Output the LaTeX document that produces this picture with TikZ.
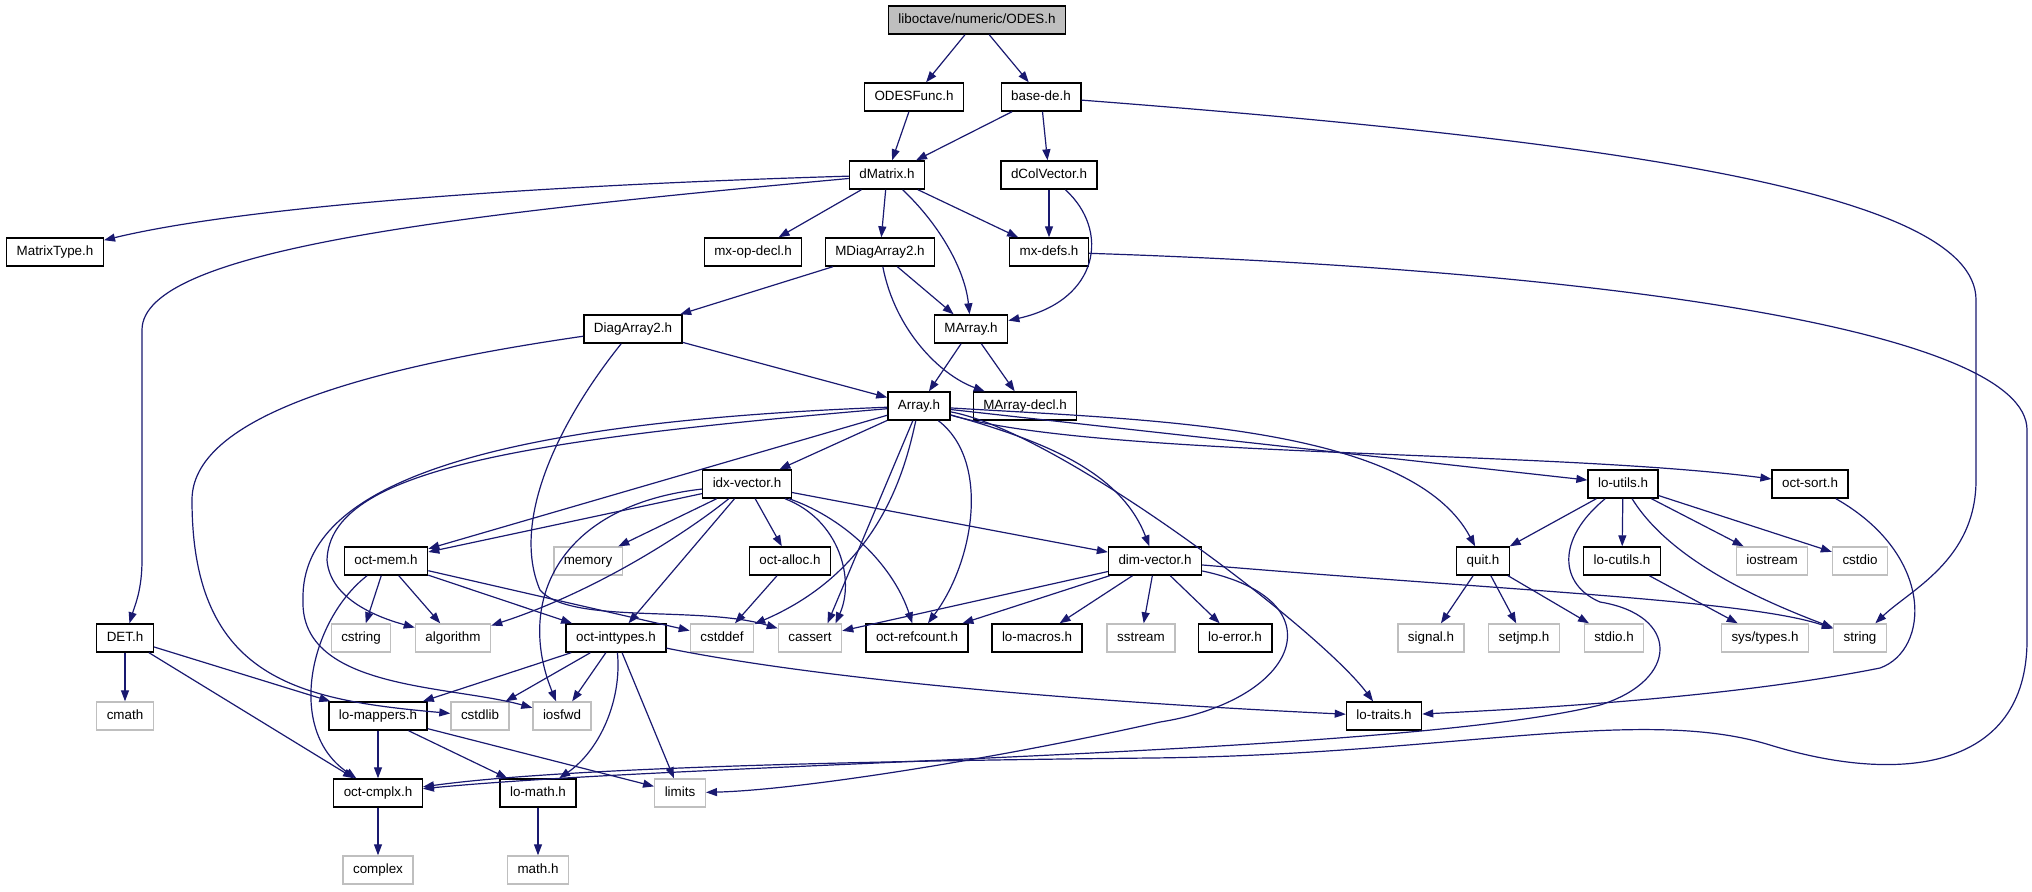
\documentclass[tikz,border=0pt]{standalone}
\usepackage{fontspec}
\setmainfont{Liberation Sans}
\usetikzlibrary{arrows.meta}
\definecolor{edgeblue}{HTML}{191970}
\definecolor{sysgray}{HTML}{BFBFBF}
\begin{document}
\begin{tikzpicture}[x=0.5pt,y=-0.5pt,
every node/.style={font=\fontsize{6.7}{8}\selectfont,inner xsep=5pt,inner ysep=0pt,minimum height=14pt,text height=5pt,text depth=1.5pt},
hdr/.style={draw=black,line width=0.7pt,fill=white},
sys/.style={draw=sysgray,line width=0.7pt,fill=white},
mainhdr/.style={draw=black,line width=0.7pt,fill=sysgray},
dep/.style={draw=edgeblue,line width=0.6pt,-{Triangle[length=5.5pt,width=4pt]}}]
\useasboundingbox (0,0) rectangle (2032,891);

\node[mainhdr] (odes) at (977,20) {liboctave/numeric/ODES.h};
\node[hdr] (odesfunc) at (914,97) {ODESFunc.h};
\node[hdr] (basede) at (1041,97) {base-de.h};
\node[hdr] (dmatrix) at (887,175) {dMatrix.h};
\node[hdr] (dcolvector) at (1049,175) {dColVector.h};
\node[hdr] (matrixtype) at (55,252) {MatrixType.h};
\node[hdr] (mxopdecl) at (753,252) {mx-op-decl.h};
\node[hdr] (mdiagarray) at (880,252) {MDiagArray2.h};
\node[hdr] (mxdefs) at (1049,252) {mx-defs.h};
\node[hdr] (diagarray) at (633,329) {DiagArray2.h};
\node[hdr] (marray) at (971,329) {MArray.h};
\node[hdr] (array) at (919,406) {Array.h};
\node[hdr] (marraydecl) at (1025,406) {MArray-decl.h};
\node[hdr] (idxvector) at (747,484) {idx-vector.h};
\node[hdr] (loutils) at (1623,484) {lo-utils.h};
\node[hdr] (octsort) at (1810,484) {oct-sort.h};
\node[hdr] (octmem) at (386,561) {oct-mem.h};
\node[sys] (memory) at (588,561) {memory};
\node[hdr] (octalloc) at (790,561) {oct-alloc.h};
\node[hdr] (dimvector) at (1155,561) {dim-vector.h};
\node[hdr] (quit) at (1483,561) {quit.h};
\node[hdr] (locutils) at (1622,561) {lo-cutils.h};
\node[sys] (iostream) at (1772,561) {iostream};
\node[sys] (cstdio) at (1860,561) {cstdio};
\node[hdr] (det) at (125,638) {DET.h};
\node[sys] (cstring) at (361,638) {cstring};
\node[sys] (algorithm) at (453,638) {algorithm};
\node[hdr] (octinttypes) at (616,638) {oct-inttypes.h};
\node[sys] (cstddef) at (722,638) {cstddef};
\node[sys] (cassert) at (810,638) {cassert};
\node[hdr] (octrefcount) at (917,638) {oct-refcount.h};
\node[hdr] (lomacros) at (1037,638) {lo-macros.h};
\node[sys] (sstream) at (1141,638) {sstream};
\node[hdr] (loerror) at (1235,638) {lo-error.h};
\node[sys] (signal) at (1431,638) {signal.h};
\node[sys] (setjmp) at (1524,638) {setjmp.h};
\node[sys] (stdioh) at (1614,638) {stdio.h};
\node[sys] (systypes) at (1765,638) {sys/types.h};
\node[sys] (string) at (1860,638) {string};
\node[sys] (cmath) at (125,716) {cmath};
\node[hdr] (lomappers) at (378,716) {lo-mappers.h};
\node[sys] (cstdlib) at (480,716) {cstdlib};
\node[sys] (iosfwd) at (562,716) {iosfwd};
\node[hdr] (lotraits) at (1384,716) {lo-traits.h};
\node[hdr] (octcmplx) at (378,793) {oct-cmplx.h};
\node[hdr] (lomath) at (538,793) {lo-math.h};
\node[sys] (limits) at (680,793) {limits};
\node[sys] (complex) at (378,870) {complex};
\node[sys] (mathh) at (538,870) {math.h};

\draw[dep] (odes) -- (odesfunc);
\draw[dep] (odes) -- (basede);
\draw[dep] (odesfunc) -- (dmatrix);
\draw[dep] (basede) -- (dmatrix);
\draw[dep] (basede) -- (dcolvector);
\draw[dep] (basede) .. controls (1600,140) and (1976,190) .. (1976,300) -- (1976,480) .. controls (1976,560) and (1910,590) .. (string);
\draw[dep] (dmatrix) .. controls (550,185) and (250,205) .. (matrixtype);
\draw[dep] (dmatrix) .. controls (450,215) and (142,250) .. (142,330) -- (142,560) .. controls (142,590) and (135,605) .. (det);
\draw[dep] (dmatrix) -- (mxopdecl);
\draw[dep] (dmatrix) -- (mdiagarray);
\draw[dep] (dmatrix) .. controls (940,225) and (965,270) .. (marray);
\draw[dep] (dmatrix) -- (mxdefs);
\draw[dep] (dcolvector) -- (mxdefs);
\draw[dep] (dcolvector) .. controls (1110,230) and (1100,300) .. (marray);
\draw[dep] (mxdefs) .. controls (1600,270) and (2027,330) .. (2027,430) -- (2027,640) .. controls (2027,770) and (1900,785) .. (1770,745) .. controls (1640,705) and (1450,755) .. (1150,758) .. controls (850,761) and (560,768) .. (octcmplx);
\draw[dep] (mdiagarray) -- (diagarray);
\draw[dep] (mdiagarray) -- (marray);
\draw[dep] (mdiagarray) .. controls (895,330) and (940,375) .. (marraydecl);
\draw[dep] (marray) -- (array);
\draw[dep] (marray) -- (marraydecl);
\draw[dep] (diagarray) -- (array);
\draw[dep] (diagarray) .. controls (350,370) and (192,420) .. (192,500) .. controls (192,680) and (300,700) .. (cstdlib);
\draw[dep] (diagarray) .. controls (560,420) and (510,520) .. (540,590) .. controls (570,625) and (700,605) .. (cassert);

\draw[dep] (array) -- (idxvector);
\draw[dep] (array) -- (octmem);
\draw[dep] (array) .. controls (520,440) and (330,470) .. (327,560) .. controls (330,600) and (380,618) .. (algorithm);
\draw[dep] (array) .. controls (500,422) and (300,480) .. (303,600) .. controls (300,690) and (450,685) .. (iosfwd);
\draw[dep] (array) .. controls (905,470) and (880,570) .. (cstddef);
\draw[dep] (array) -- (cassert.40);
\draw[dep] (array) .. controls (990,460) and (975,560) .. (octrefcount);
\draw[dep] (array) .. controls (1040,440) and (1120,470) .. (dimvector);
\draw[dep] (array) .. controls (1060,432) and (1320,630) .. (lotraits);
\draw[dep] (array) .. controls (1150,420) and (1410,425) .. (quit);
\draw[dep] (array) -- (loutils);
\draw[dep] (array) .. controls (1100,458) and (1550,450) .. (octsort);

\draw[dep] (idxvector) -- (octmem);
\draw[dep] (idxvector) -- (memory);
\draw[dep] (idxvector) .. controls (690,530) and (600,590) .. (algorithm);
\draw[dep] (idxvector) -- (octinttypes);
\draw[dep] (idxvector) .. controls (560,505) and (515,600) .. (iosfwd);
\draw[dep] (idxvector) -- (octalloc);
\draw[dep] (idxvector) .. controls (840,520) and (855,580) .. (cassert.30);
\draw[dep] (idxvector) .. controls (850,520) and (895,570) .. (octrefcount);
\draw[dep] (idxvector) -- (dimvector);
\draw[dep] (octalloc) -- (cstddef);

\draw[dep] (octmem) -- (cstring);
\draw[dep] (octmem) -- (algorithm);
\draw[dep] (octmem) -- (octinttypes);
\draw[dep] (octmem) -- (cstddef);
\draw[dep] (octmem) .. controls (310,620) and (285,730) .. (octcmplx);
\draw[dep] (octinttypes) -- (lomappers);
\draw[dep] (octinttypes) -- (cstdlib);
\draw[dep] (octinttypes) -- (iosfwd);
\draw[dep] (octinttypes) .. controls (622,700) and (600,750) .. (lomath);
\draw[dep] (octinttypes) -- (limits);
\draw[dep] (octinttypes) .. controls (850,685) and (1150,705) .. (lotraits);
\draw[dep] (det) -- (cmath);
\draw[dep] (det) -- (lomappers);
\draw[dep] (det) -- (octcmplx);
\draw[dep] (lomappers) -- (octcmplx);
\draw[dep] (lomappers) -- (lomath);
\draw[dep] (lomappers) -- (limits);
\draw[dep] (octcmplx) -- (complex);
\draw[dep] (lomath) -- (mathh);

\draw[dep] (dimvector) -- (cassert);
\draw[dep] (dimvector) -- (octrefcount);
\draw[dep] (dimvector) -- (lomacros);
\draw[dep] (dimvector) -- (sstream);
\draw[dep] (dimvector) -- (loerror);
\draw[dep] (dimvector) .. controls (1500,590) and (1750,600) .. (string);
\draw[dep] (dimvector) .. controls (1340,600) and (1300,700) .. (1160,722) .. controls (1000,758) and (800,790) .. (limits);

\draw[dep] (loutils) -- (quit);
\draw[dep] (loutils) -- (locutils);
\draw[dep] (loutils) -- (iostream);
\draw[dep] (loutils) -- (cstdio);
\draw[dep] (loutils) .. controls (1670,560) and (1760,600) .. (string);
\draw[dep] (loutils) .. controls (1555,540) and (1560,585) .. (1600,602) .. controls (1680,615) and (1680,680) .. (1600,705) .. controls (1400,755) and (700,762) .. (octcmplx);
\draw[dep] (quit) -- (signal);
\draw[dep] (quit) -- (setjmp);
\draw[dep] (quit) -- (stdioh);
\draw[dep] (locutils) -- (systypes);
\draw[dep] (octsort) .. controls (1935,555) and (1930,650) .. (1880,668) .. controls (1720,700) and (1500,710) .. (lotraits);

\end{tikzpicture}
\end{document}
